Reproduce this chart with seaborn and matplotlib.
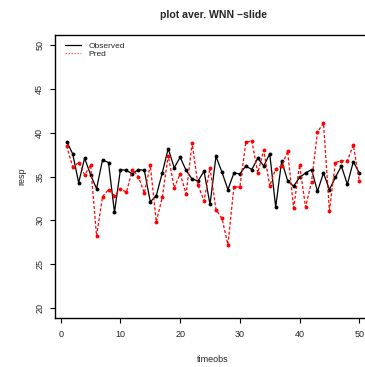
import matplotlib
matplotlib.use("Agg")
import matplotlib.pyplot as plt
import seaborn as sns
import numpy as np
import pandas as pd
from matplotlib.lines import Line2D

timeobs = list(range(1, 51))
observed = [39.0, 37.6, 34.3, 37.1, 35.2, 33.6, 36.9, 36.6, 30.9, 35.8,
            35.7, 35.3, 35.8, 35.7, 32.1, 32.8, 35.4, 38.2, 36.0, 37.2,
            35.7, 34.7, 34.5, 35.6, 31.8, 37.3, 35.5, 33.5, 35.4, 35.3,
            36.2, 35.8, 37.1, 36.2, 37.6, 31.5, 36.8, 34.5, 33.9, 34.9,
            35.4, 35.8, 33.3, 35.4, 33.5, 34.9, 36.2, 34.1, 36.7, 35.4]
pred = [38.5, 36.1, 36.6, 35.2, 36.3, 28.2, 32.7, 33.5, 32.8, 33.6,
        33.2, 35.8, 35.0, 33.1, 36.3, 29.8, 32.6, 37.4, 33.7, 35.3,
        33.0, 38.8, 34.0, 32.2, 36.0, 31.2, 30.2, 27.2, 33.8, 33.8,
        38.9, 39.1, 35.4, 38.0, 33.9, 35.9, 36.2, 37.9, 31.4, 36.3,
        31.5, 34.4, 40.1, 41.1, 31.1, 36.6, 36.8, 36.8, 38.6, 34.5]
xticks = [0, 10, 20, 30, 40, 50]
yticks = [20, 25, 30, 35, 40, 45, 50]

df = pd.DataFrame({"timeobs": timeobs, "Observed": observed, "Pred": pred})

sns.set_style("white")
plt.rcParams['font.family'] = ['Liberation Sans', 'DejaVu Sans']

fig = plt.figure(figsize=(3.65, 3.67), dpi=100)
W, H = 365, 367
l, r, t, b = 55, 371, 35, 318
ax = fig.add_axes([l / W, (H - b) / H, (r - l) / W, (b - t) / H])

sns.lineplot(data=df, x="timeobs", y="Observed", ax=ax, color="black",
             linewidth=0.9, marker="o", markersize=2.8, markeredgewidth=0,
             markerfacecolor="black")
sns.lineplot(data=df, x="timeobs", y="Pred", ax=ax, color="red",
             linewidth=0.9, marker="o", markersize=2.8, markeredgewidth=0,
             markerfacecolor="red", dashes=False)
ax.lines[-1].set_dashes((2.4, 1.6))

ax.set_xlim(-0.96, 51.96)
ax.set_ylim(18.8, 51.2)
ax.set_xticks(xticks)
ax.set_yticks(yticks)
ax.set_xticklabels([str(v) for v in xticks], fontsize=6.5)
ax.set_yticklabels([str(v) for v in yticks], fontsize=6.5, rotation=90,
                   va="center")
ax.tick_params(axis="both", direction="out", length=3.8, width=0.8,
               color="black", labelcolor="#222222", bottom=True, left=True)
ax.tick_params(axis="x", pad=5)
ax.tick_params(axis="y", pad=4)
for s in ["left", "bottom", "top"]:
    ax.spines[s].set_visible(True)
    ax.spines[s].set_color("black")
    ax.spines[s].set_linewidth(1.0)
ax.spines["right"].set_visible(False)

ax.set_xlabel("timeobs", fontsize=6.5, labelpad=11)
ax.set_ylabel("resp", fontsize=6.5, labelpad=6)
ax.set_title("plot aver. WNN \u2013slide", fontsize=7.6, fontweight="bold",
             pad=12)

handles = [Line2D([], [], color="black", lw=0.9),
           Line2D([], [], color="#ff6060", lw=0.9, dashes=(1.2, 1.2))]
ax.legend(handles, ["Observed", "Pred"], loc="upper left",
          bbox_to_anchor=(0.01, 1.0), frameon=False, fontsize=6.0,
          handlelength=1.9, handletextpad=0.9, labelspacing=0.05,
          borderpad=0.3)

fig.savefig("out.png", dpi=100)
